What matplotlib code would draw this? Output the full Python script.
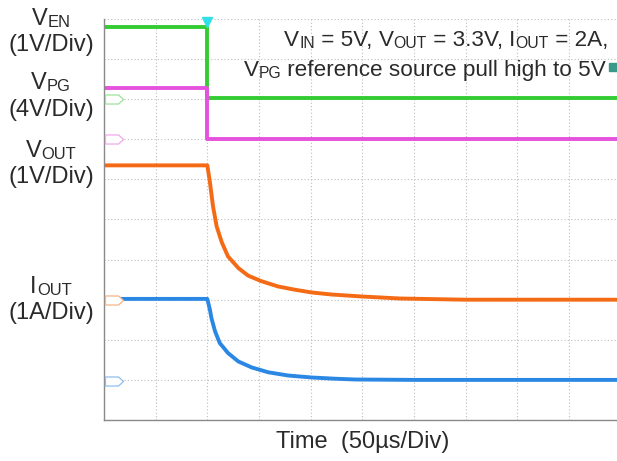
import matplotlib.pyplot as plt
import numpy as np

plt.rcParams['font.family'] = ['Liberation Sans', 'DejaVu Sans']

# scope screen, in divisions (x: 50us/div, y: 10 div tall)
x_max = 9.93

# V_EN: high before the enable edge, then low
ven_t = [0.0, 2.0, 2.0, x_max]
ven_v = [9.8, 9.8, 8.03, 8.03]

# V_PG
vpg_t = [0.0, 2.0, 2.0, x_max]
vpg_v = [8.28, 8.28, 7.0, 7.0]

# V_OUT discharge
vout_t = [0.0, 2.0, 2.05, 2.11, 2.18, 2.28, 2.40, 2.60, 2.79, 3.05, 3.37,
          3.69, 4.02, 4.40, 4.99, 5.73, 7.0, x_max]
vout_v = [6.35, 6.35, 5.93, 5.33, 4.83, 4.43, 4.08, 3.79, 3.60, 3.46, 3.33,
          3.25, 3.18, 3.13, 3.08, 3.03, 3.0, 3.0]

# I_OUT
iout_t = [0.0, 2.0, 2.05, 2.08, 2.15, 2.24, 2.40, 2.60, 2.86, 3.18, 3.56,
          4.02, 4.47, 4.86, 6.0, x_max]
iout_v = [3.02, 3.02, 2.75, 2.54, 2.21, 1.92, 1.67, 1.46, 1.31, 1.19, 1.11,
          1.06, 1.03, 1.01, 1.0, 1.0]

# channel ground markers on the left edge
ref_levels = [8.0, 7.0, 3.0, 0.98]
ref_colors = ['#9be39b', '#f0a8ec', '#f5b48a', '#8fbff0']

W, H = 617, 461
fig = plt.figure(figsize=(W / 100, H / 100), dpi=100)
ax = fig.add_axes([104 / W, 1 - 420 / H, 1 - 104 / W, (420 - 19) / H])

ax.set_xlim(0, x_max)
ax.set_ylim(0, 10)
ax.set_xticks(np.arange(0, 10))
ax.set_yticks(np.arange(0, 11))
ax.tick_params(length=0, labelbottom=False, labelleft=False)
ax.grid(True, color='#bdbdbd', linestyle=(0, (1, 2)), linewidth=0.8)
for s in ['top', 'right']:
    ax.spines[s].set_visible(False)
for s in ['left', 'bottom']:
    ax.spines[s].set_color('#8a8a8a')
    ax.spines[s].set_linewidth(1.0)

ax.plot(ven_t, ven_v, color='#33cc33', lw=2.8, solid_capstyle='butt')
ax.plot([2.0, 2.0], [ven_v[1], ven_v[2]], color='#33cc33', lw=1)
ax.plot(vpg_t, vpg_v, color='#e552dd', lw=2.8, solid_capstyle='butt')
ax.plot([2.0, 2.0], [vpg_v[1], vpg_v[2]], color='#e552dd', lw=1)
ax.plot(vout_t, vout_v, color='#f56a14', lw=2.8, solid_capstyle='butt')
ax.plot(iout_t, iout_v, color='#2a88e4', lw=2.8, solid_capstyle='butt')

tag = [(-1, -0.5), (0.45, -0.5), (1, 0), (0.45, 0.5), (-1, 0.5), (-1, -0.5)]
for lvl, c in zip(ref_levels, ref_colors):
    ax.plot([0.19], [lvl], marker=tag, markersize=13, markerfacecolor='white',
            markeredgecolor=c, markeredgewidth=0.9, clip_on=False, zorder=5)

# trigger position and level markers
ax.plot([2.0], [9.92], marker='v', markersize=7, color='#30e0e8',
        clip_on=False, zorder=6)
ax.plot([9.86], [8.8], marker='s', markersize=6, color='#3a9a8a',
        clip_on=False, zorder=6)

fig.canvas.draw()
renderer = fig.canvas.get_renderer()
tc = '#2a2a2a'


def rich(pieces, x, y, size, ha='center'):
    # pieces: (text, is_subscript); x, y in pixels, y = baseline from top
    arts = []
    widths = []
    for s, sub in pieces:
        fs = size * 0.7 if sub else size
        t = fig.text(0, 0, s, fontsize=fs, color=tc, va='baseline',
                     ha='left', transform=None)
        arts.append((t, sub))
        widths.append(t.get_window_extent(renderer).width)
    total = sum(widths)
    if ha == 'center':
        x0 = x - total / 2
    elif ha == 'right':
        x0 = x - total
    else:
        x0 = x
    for (t, sub), w in zip(arts, widths):
        yb = H - y - (1.5 if sub else 0)
        t.set_position((x0, yb))
        x0 += w


rich([('V', False), ('EN', True)], 51, 25, 17)
rich([('(1V/Div)', False)], 51, 51, 17)
rich([('V', False), ('PG', True)], 51, 89, 17)
rich([('(4V/Div)', False)], 51, 116, 17)
rich([('V', False), ('OUT', True)], 51, 157, 17)
rich([('(1V/Div)', False)], 51, 183, 17)
rich([('I', False), ('OUT', True)], 51, 293, 17)
rich([('(1A/Div)', False)], 51, 319, 17)

rich([('V', False), ('IN', True), (' = 5V, ', False), ('V', False),
      ('OUT', True), (' = 3.3V, ', False), ('I', False), ('OUT', True),
      (' = 2A,', False)], 608, 46, 16.2, ha='right')
rich([('V', False), ('PG', True), (' reference source pull high to 5V', False)],
     606, 76, 16.2, ha='right')

rich([('Time  (50\u00b5s/Div)', False)], 363, 448, 17)

fig.savefig('out.png', dpi=100)
